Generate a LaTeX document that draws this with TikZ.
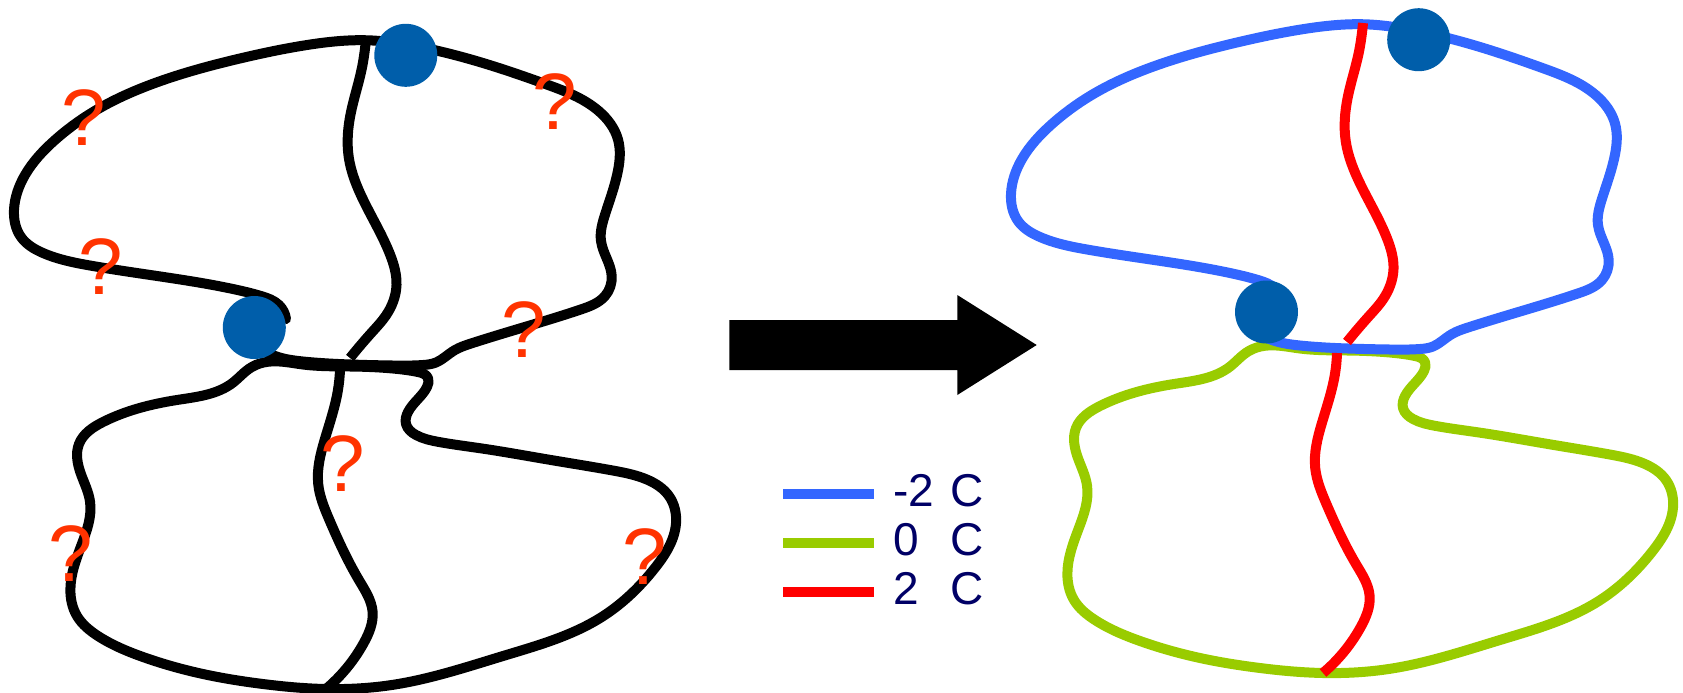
\documentclass[tikz,border=0pt]{standalone}
\usepackage{fontspec}
\setmainfont{Liberation Sans}
\usetikzlibrary{hobby}
\definecolor{chargeneg}{RGB}{51,102,255}
\definecolor{chargezero}{RGB}{153,204,0}
\definecolor{chargepos}{RGB}{255,0,0}
\definecolor{dotblue}{RGB}{0,94,170}
\definecolor{qmark}{RGB}{255,51,0}
\definecolor{legendtext}{RGB}{0,0,102}

% Upper strand: starts and ends under the lower bead
\newcommand\upperloop[1]{\draw[wire,line cap=round,#1] plot[hobby] coordinates {
  (1283,303) (1276,289) (1258,280) (1230,273) (1174,263) (1087,249.5) (1040,237)
  (1018,221) (1011,194) (1022,159) (1052,124) (1090,96) (1152,67) (1239,42)
  (1304,29) (1365,24.3) (1417,31) (1478,46.4) (1543.5,68.4) (1595.7,95) (1615,123.5)
  (1615,154.5) (1602,198.7) (1598,225) (1608.7,260) (1602,280) (1578,293.4)
  (1521.7,311) (1468,327.5) (1452,334) (1442,341) (1433,346.5) (1420,349)
  (1390,349.5) (1348,348.5) (1300,345.5) (1272,340) (1258,333)};}
% Lower closed loop
\newcommand\lowerloop[1]{\draw[wire,#1] plot[closed hobby] coordinates {
  (1260.9,346.4) (1245.7,353) (1230.4,366.3) (1173.9,384) (1100,406) (1076,428)
  (1078.3,459) (1087,485.4) (1078.3,529.5) (1067.4,573.7) (1074,600) (1095,620)
  (1140,641) (1200,658) (1260,668) (1323,673) (1391.3,668.6) (1500,640)
  (1600,600.2) (1652.2,551.6)
  (1673,507.5) (1666,480) (1645,464) (1609.8,454.5) (1545,443.5) (1479,432.5)
  (1435.5,425.9) (1413,419) (1403,408) (1405,396) (1415,383) (1424,371)
  (1425,362) (1415,356) (1395,353) (1347.8,350.5) (1300,348.5)};}
% Upper open strand
\newcommand\upperrod[1]{\draw[wire,#1] plot[hobby] coordinates {
  (1363,23) (1361,40) (1358.7,53) (1347.8,97) (1345.7,141) (1360.9,185.3)
  (1387,238.3) (1393.5,269) (1382.6,300) (1369.6,315.5) (1347,342)};}
% Lower open strand
\newcommand\lowerrod[1]{\draw[wire,#1] plot[hobby] coordinates {
  (1337,353) (1334.8,375) (1321.7,423.7) (1315.2,467.8) (1326,503) (1356.5,565)
  (1369.6,595.8) (1360.9,626.7) (1323,673)};}

\begin{document}
\begin{tikzpicture}[x=0.5pt, y=-0.5pt,
  wire/.style={line width=5pt, line join=round},
  bead/.style={circle, fill=dotblue, inner sep=0pt, minimum size=31.5pt},
  qm/.style={text=qmark, font=\fontsize{40}{40}\selectfont, inner sep=0pt},
  keyline/.style={line width=5pt},
  keytext/.style={text=legendtext, font=\fontsize{23}{23}\selectfont, inner sep=0pt, anchor=base west}]
\useasboundingbox (0,0) rectangle (1683,692);

% ---- left: uncharged strands ----
\begin{scope}[shift={(-997,16)}]
  \lowerloop{black}
  \upperloop{black}
  \upperrod{black}
  \lowerrod{black}
\end{scope}
\node[bead] (l1) at (405.8,55.3) {};
\node[bead] (l2) at (254.3,327.5) {};

\node[qm] (q1) at (84,117.5) {?};
\node[qm] (q2) at (554.7,101.5) {?};
\node[qm] (q3) at (101,267) {?};
\node[qm] (q4) at (524,330) {?};
\node[qm] (q5) at (343,463.4) {?};
\node[qm] (q6) at (70.7,553.8) {?};
\node[qm] (q7) at (645,556.5) {?};

% ---- arrow ----
\fill[black] (729.3,320) -- (957.3,320) -- (957.3,295) -- (1036.7,345)
  -- (957.3,395) -- (957.3,370) -- (729.3,370) -- cycle;

% ---- right: charged strands ----
\lowerloop{chargezero}
\upperloop{chargeneg}
\upperrod{chargepos}
\lowerrod{chargepos}
\node[bead] (r1) at (1418.7,39.7) {};
\node[bead] (r2) at (1266.5,312) {};

% ---- legend ----
\coordinate (k1a) at (783.3,494.2); \coordinate (k1b) at (874.3,494.2);
\coordinate (k2a) at (783.3,543);   \coordinate (k2b) at (874.3,543);
\coordinate (k3a) at (783.3,592.3); \coordinate (k3b) at (874.3,592.3);
\draw[keyline, chargeneg] (k1a) -- (k1b);
\draw[keyline, chargezero] (k2a) -- (k2b);
\draw[keyline, chargepos] (k3a) -- (k3b);
\node[keytext] (t1) at (893,506) {\makebox[28.5pt][l]{-2}C};
\node[keytext] (t2) at (893,555) {\makebox[28.5pt][l]{0}C};
\node[keytext] (t3) at (893,604) {\makebox[28.5pt][l]{2}C};
\end{tikzpicture}
\end{document}
